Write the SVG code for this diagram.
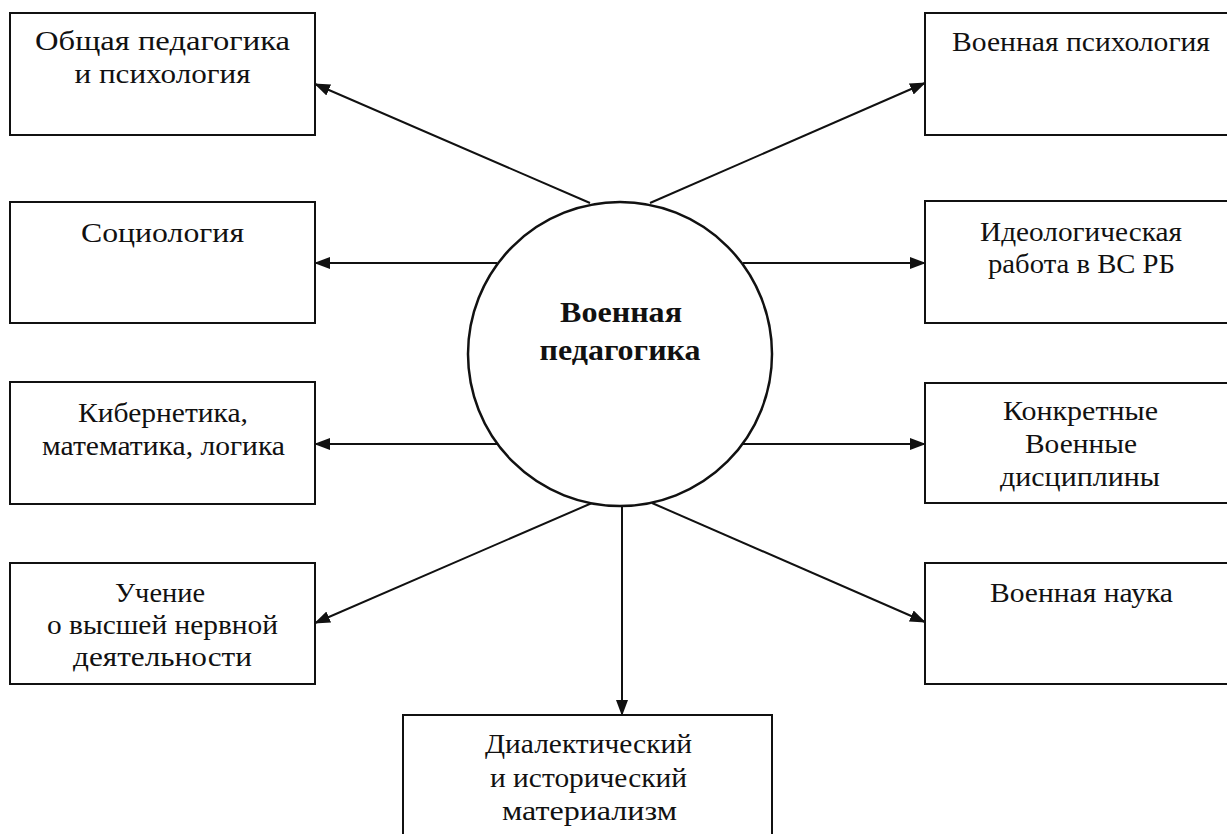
<svg xmlns="http://www.w3.org/2000/svg" width="1227" height="834" viewBox="0 0 1227 834">
<style>
.box{fill:#fff;stroke:#111;stroke-width:2}
.t{font-family:"Liberation Serif","Times New Roman",serif;font-size:27px;fill:#111;text-anchor:middle}
.b{font-family:"Liberation Serif","Times New Roman",serif;font-size:30px;font-weight:bold;fill:#111;text-anchor:middle}
.c line{stroke:#111;stroke-width:2;marker-end:url(#ah)}
</style>
<defs>
<marker id="ah" markerUnits="userSpaceOnUse" markerWidth="16" markerHeight="12" refX="15" refY="6" orient="auto">
<path d="M0,0 L16,6 L0,12 Z" fill="#111"/>
</marker>
</defs>
<rect width="1227" height="834" fill="#fff"/>
<g class="c" id="connectors">
<line x1="590" y1="203" x2="315" y2="84"/>
<line x1="650" y1="203" x2="925" y2="83"/>
<line x1="497" y1="263" x2="315" y2="263"/>
<line x1="743" y1="263" x2="925" y2="263"/>
<line x1="497" y1="444" x2="315" y2="444"/>
<line x1="743" y1="444" x2="925" y2="444"/>
<line x1="592" y1="503" x2="315" y2="623"/>
<line x1="652" y1="503" x2="925" y2="622"/>
<line x1="622" y1="505" x2="622" y2="715"/>
</g>
<g id="center">
<circle cx="620" cy="354" r="152" fill="#fff" stroke="#111" stroke-width="2.5"/>
<text class="b" x="621" y="322" textLength="122" lengthAdjust="spacingAndGlyphs">Военная</text>
<text class="b" x="620" y="360" textLength="161" lengthAdjust="spacingAndGlyphs">педагогика</text>
</g>
<g id="n1"><rect class="box" x="10" y="13" width="305" height="122"/>
<text class="t" x="162.5" y="50" textLength="255" lengthAdjust="spacingAndGlyphs">Общая педагогика</text><text class="t" x="162.5" y="83" textLength="176" lengthAdjust="spacingAndGlyphs">и психология</text></g>
<g id="n2"><rect class="box" x="10" y="202" width="305" height="121"/>
<text class="t" x="162.5" y="242" textLength="163" lengthAdjust="spacingAndGlyphs">Социология</text></g>
<g id="n3"><rect class="box" x="10" y="382" width="305" height="122"/>
<text class="t" x="163" y="422" textLength="170" lengthAdjust="spacingAndGlyphs">Кибернетика,</text><text class="t" x="163.5" y="455" textLength="243" lengthAdjust="spacingAndGlyphs">математика, логика</text></g>
<g id="n4"><rect class="box" x="10" y="563" width="305" height="121"/>
<text class="t" x="160" y="602" textLength="90" lengthAdjust="spacingAndGlyphs">Учение</text><text class="t" x="162.5" y="634" textLength="231" lengthAdjust="spacingAndGlyphs">о высшей нервной</text><text class="t" x="162.5" y="666" textLength="179" lengthAdjust="spacingAndGlyphs">деятельности</text></g>
<g id="n5"><rect class="box" x="925" y="13" width="312" height="122"/>
<text class="t" x="1081" y="51" textLength="258" lengthAdjust="spacingAndGlyphs">Военная психология</text></g>
<g id="n6"><rect class="box" x="925" y="201" width="312" height="122"/>
<text class="t" x="1081" y="241" textLength="202" lengthAdjust="spacingAndGlyphs">Идеологическая</text><text class="t" x="1081.5" y="273" textLength="187" lengthAdjust="spacingAndGlyphs">работа в ВС РБ</text></g>
<g id="n7"><rect class="box" x="925" y="383" width="312" height="120"/>
<text class="t" x="1080.5" y="420" textLength="155" lengthAdjust="spacingAndGlyphs">Конкретные</text><text class="t" x="1081" y="453" textLength="112" lengthAdjust="spacingAndGlyphs">Военные</text><text class="t" x="1080" y="486" textLength="160" lengthAdjust="spacingAndGlyphs">дисциплины</text></g>
<g id="n8"><rect class="box" x="925" y="563" width="312" height="121"/>
<text class="t" x="1081.5" y="602" textLength="183" lengthAdjust="spacingAndGlyphs">Военная наука</text></g>
<g id="n9"><rect class="box" x="403" y="715" width="369" height="130"/>
<text class="t" x="588.5" y="753" textLength="207" lengthAdjust="spacingAndGlyphs">Диалектический</text><text class="t" x="588.5" y="787" textLength="197" lengthAdjust="spacingAndGlyphs">и исторический</text><text class="t" x="589.5" y="820" textLength="175" lengthAdjust="spacingAndGlyphs">материализм</text></g>
</svg>
